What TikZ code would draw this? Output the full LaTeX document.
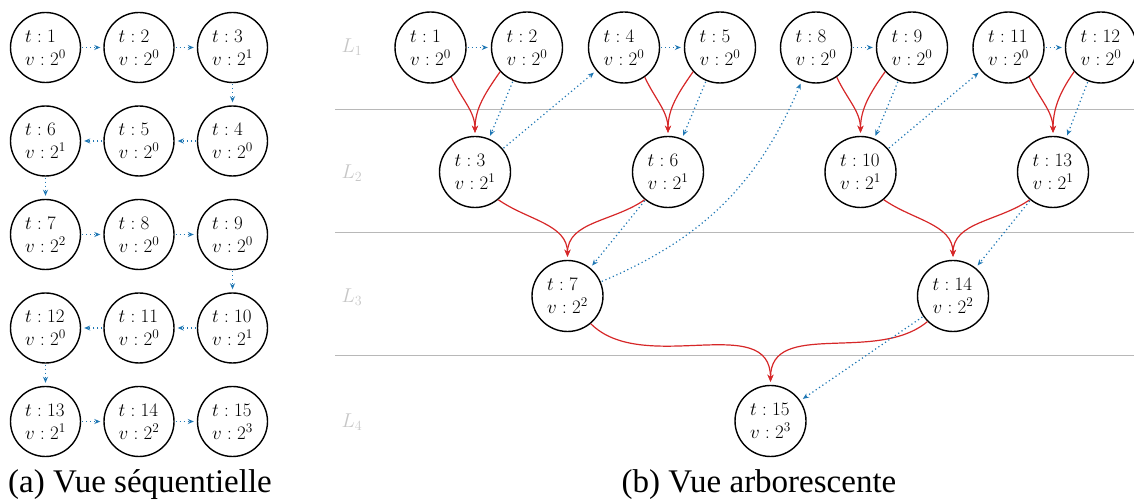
\RequirePackage{fix-cm}
\documentclass[tikz,border=0pt]{standalone}
\usepackage[no-math]{fontspec}
\setmainfont{Liberation Serif}
\usetikzlibrary{arrows.meta}
\definecolor{tred}{RGB}{214,39,40}
\definecolor{tblue}{RGB}{31,119,180}
\tikzset{
  st/.style={circle,draw,line width=1.4pt,minimum size=70pt,inner sep=0pt,align=left,font=\fontsize{19}{23}\selectfont},
  seq/.style={tblue,line width=1.2pt,dash pattern=on 1.2pt off 2.8pt,-{Stealth[length=6pt,width=5pt]},shorten >=3pt,shorten <=1pt},
  mrg/.style={tred,line width=1.2pt,-{Stealth[length=7pt,width=6pt]},shorten >=3pt},
  lvl/.style={font=\fontsize{20}{22}\selectfont,text=black!22},
  sepline/.style={black!28,line width=1pt},
  captext/.style={font=\fontsize{33}{37}\rmfamily\selectfont}
}
\begin{document}
\begin{tikzpicture}[x=1pt,y=1pt]
\useasboundingbox (0,0) rectangle (1134,502);
% ---- (a) sequential view
\node[st] (a1) at (45.5,454.5) {$t:1$\\$v:2^0$};
\node[st] (a2) at (139,454.5) {$t:2$\\$v:2^0$};
\node[st] (a3) at (232.5,454.5) {$t:3$\\$v:2^1$};
\node[st] (a4) at (232.5,361) {$t:4$\\$v:2^0$};
\node[st] (a5) at (139,361) {$t:5$\\$v:2^0$};
\node[st] (a6) at (45.5,361) {$t:6$\\$v:2^1$};
\node[st] (a7) at (45.5,267.5) {$t:7$\\$v:2^2$};
\node[st] (a8) at (139,267.5) {$t:8$\\$v:2^0$};
\node[st] (a9) at (232.5,267.5) {$t:9$\\$v:2^0$};
\node[st] (a10) at (232.5,174) {$t:10$\\$v:2^1$};
\node[st] (a11) at (139,174) {$t:11$\\$v:2^0$};
\node[st] (a12) at (45.5,174) {$t:12$\\$v:2^0$};
\node[st] (a13) at (45.5,80.5) {$t:13$\\$v:2^1$};
\node[st] (a14) at (139,80.5) {$t:14$\\$v:2^2$};
\node[st] (a15) at (232.5,80.5) {$t:15$\\$v:2^3$};
\foreach \i/\j in {1/2,2/3,3/4,4/5,5/6,6/7,7/8,8/9,9/10,10/11,11/12,12/13,13/14,14/15}
  \draw[seq] (a\i) -- (a\j);
\node[captext] (capa) at (140,17) {(a) Vue séquentielle};
% ---- (b) tree view
\draw[sepline] (335,392) coordinate (s1a) -- (1134,392) coordinate (s1b);
\draw[sepline] (335,269) coordinate (s2a) -- (1134,269) coordinate (s2b);
\draw[sepline] (335,146) coordinate (s3a) -- (1134,146) coordinate (s3b);
\node[lvl] (l1) at (352,455) {$L_1$};
\node[lvl] (l2) at (352,329) {$L_2$};
\node[lvl] (l3) at (352,205) {$L_3$};
\node[lvl] (l4) at (352,80) {$L_4$};
\node[st,minimum size=71pt] (b1) at (430.5,454.5) {$t:1$\\$v:2^0$};
\node[st,minimum size=71pt] (b2) at (527,454.5) {$t:2$\\$v:2^0$};
\node[st,minimum size=71pt] (b4) at (624,454.5) {$t:4$\\$v:2^0$};
\node[st,minimum size=71pt] (b5) at (720,454.5) {$t:5$\\$v:2^0$};
\node[st,minimum size=71pt] (b8) at (816,454.5) {$t:8$\\$v:2^0$};
\node[st,minimum size=71pt] (b9) at (912,454.5) {$t:9$\\$v:2^0$};
\node[st,minimum size=71pt] (b11) at (1008.5,454.5) {$t:11$\\$v:2^0$};
\node[st,minimum size=71pt] (b12) at (1101,454.5) {$t:12$\\$v:2^0$};
\node[st,minimum size=71pt] (b3) at (475,330) {$t:3$\\$v:2^1$};
\node[st,minimum size=71pt] (b6) at (668,330) {$t:6$\\$v:2^1$};
\node[st,minimum size=71pt] (b10) at (860.5,330) {$t:10$\\$v:2^1$};
\node[st,minimum size=71pt] (b13) at (1053,330) {$t:13$\\$v:2^1$};
\node[st,minimum size=71pt] (b7) at (567.5,206) {$t:7$\\$v:2^2$};
\node[st,minimum size=71pt] (b14) at (953,206) {$t:14$\\$v:2^2$};
\node[st,minimum size=71pt] (b15) at (770.5,81) {$t:15$\\$v:2^3$};
% merges
\foreach \l/\r/\p in {b1/b2/b3,b4/b5/b6,b8/b9/b10,b11/b12/b13}{
  \draw[mrg] (\l.-55) to[out=-65,in=90] (\p);
  \draw[mrg] (\r.-138) to[out=-125,in=90] (\p);
}
\foreach \l/\r/\p in {b3/b6/b7,b10/b13/b14}{
  \draw[mrg] (\l.-50) to[out=-35,in=90] (\p);
  \draw[mrg] (\r.-130) to[out=-145,in=90] (\p);
}
\draw[mrg] (b7.-50) to[out=-45,in=90] (b15);
\draw[mrg] (b14.-135) to[out=-140,in=90] (b15);
% sequence
\foreach \i/\j in {1/2,2/3,3/4,4/5,5/6,6/7,8/9,9/10,10/11,11/12,12/13,13/14,14/15}
  \draw[seq] (b\i) -- (b\j);
\draw[seq] (b7) to[bend right=22] (b8);
\node[captext] (capb) at (759,17) {(b) Vue arborescente};
\end{tikzpicture}
\end{document}
